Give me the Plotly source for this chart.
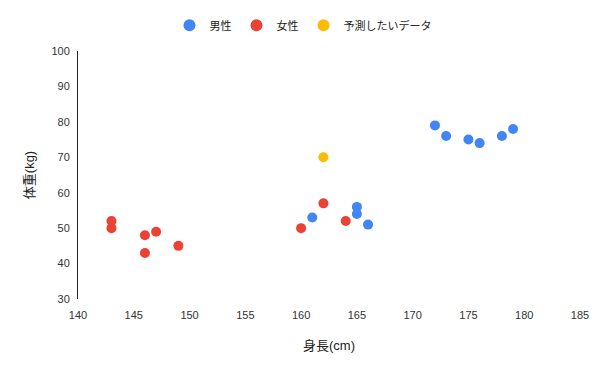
import plotly.graph_objects as go

male_height = [161, 165, 165, 166, 172, 173, 175, 176, 178, 179]
male_weight = [53, 56, 54, 51, 79, 76, 75, 74, 76, 78]
female_height = [143, 143, 146, 147, 146, 149, 160, 162, 164]
female_weight = [52, 50, 48, 49, 43, 45, 50, 57, 52]
pred_height = [162]
pred_weight = [70]

FONT = "Arial, 'Liberation Sans', 'Noto Sans CJK JP', sans-serif"

fig = go.Figure()
fig.add_trace(go.Scatter(x=male_height, y=male_weight, mode="markers", name="男性",
                         marker=dict(color="#4285F4", size=10)))
fig.add_trace(go.Scatter(x=female_height, y=female_weight, mode="markers", name="女性",
                         marker=dict(color="#EA4335", size=10)))
fig.add_trace(go.Scatter(x=pred_height, y=pred_weight, mode="markers", name="予測したいデータ",
                         marker=dict(color="#FBBC04", size=10)))

fig.update_layout(
    width=600, height=371,
    margin=dict(l=78, r=20, t=51, b=72, autoexpand=False),
    plot_bgcolor="white", paper_bgcolor="white",
    font=dict(family=FONT, size=11, color="#222222"),
    showlegend=True,
    legend=dict(orientation="h", x=0.505, xref="container", xanchor="center",
                y=0.971, yref="container", yanchor="top",
                font=dict(size=11, color="#222222"), itemsizing="constant"),
    xaxis=dict(range=[140, 185], dtick=5, tick0=140, showgrid=False, zeroline=False,
               showline=False, ticks="outside", ticklen=6, tickcolor="rgba(0,0,0,0)",
               title=dict(text="身長(cm)", standoff=20),
               tickfont=dict(size=11, color="#333333")),
    yaxis=dict(range=[30, 100], dtick=10, tick0=30, showgrid=False, zeroline=False,
               showline=True, linecolor="#222222", linewidth=1,
               ticks="outside", ticklen=5, tickcolor="rgba(0,0,0,0)",
               title=dict(text="体重(kg)", standoff=13),
               tickfont=dict(size=11, color="#333333")),
)

fig.write_html("out.html", config={"displayModeBar": False},
               post_script="document.body.style.margin='0';")
